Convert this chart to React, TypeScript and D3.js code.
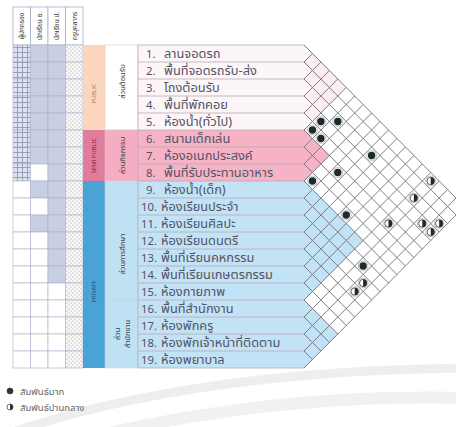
import React from "react";
import * as d3 from "d3";

const W = 456;
const H = 427;

const rowNames = [
  "ลานจอดรถ",
  "พื้นที่จอดรถรับ-ส่ง",
  "โถงต้อนรับ",
  "พื้นที่พักคอย",
  "ห้องน้ำ(ทั่วไป)",
  "สนามเด็กเล่น",
  "ห้องอเนกประสงค์",
  "พื้นที่รับประทานอาหาร",
  "ห้องน้ำ(เด็ก)",
  "ห้องเรียนประจำ",
  "ห้องเรียนศิลปะ",
  "ห้องเรียนดนตรี",
  "พื้นที่เรียนคหกรรม",
  "พื้นที่เรียนเกษตรกรรม",
  "ห้องกายภาพ",
  "พื้นที่สำนักงาน",
  "ห้องพักครู",
  "ห้องพักเจ้าหน้าที่ติดตาม",
  "ห้องพยาบาล",
];

const catNames = ["PUBLIC", "SEMI PUBLIC", "PRIVATE"];
const catStart = [1, 6, 9];
const catEnd = [5, 8, 19];

const subNames = ["ส่วนต้อนรับ", "ส่วนกิจกรรม", "ส่วนการศึกษา", "ส่วน|สำนักงาน"];
const subStart = [1, 6, 9, 16];
const subEnd = [5, 8, 15, 19];

const userNames = ["ผู้ปกครอง", "นักเรียน อ.", "นักเรียน ป.", "ครูบุคลากร"];
const userRowsCol1 = [1, 2, 3, 4, 5, 6, 7, 8];
const userRowsCol2 = [1, 2, 3, 4, 5, 6, 7, 9, 11];
const userRowsCol3 = [1, 2, 3, 4, 5, 6, 7, 8, 9, 10, 11, 12, 13, 14];
const userRowsCol4 = [1, 2, 3, 4, 5, 6, 7, 8, 9, 10, 11, 12, 13, 14, 15, 16, 17, 18, 19];

const strongPairs = [
  [4, 6], [3, 7], [5, 6], [5, 7], [3, 11], [6, 10], [8, 9], [8, 13], [10, 17],
];
const mediumPairs = [
  [1, 16], [3, 16], [6, 16], [4, 18], [3, 19], [4, 19], [11, 18], [12, 18],
];

const legendLabels = ["สัมพันธ์มาก", "สัมพันธ์ปานกลาง"];

const FONT = "'Noto Sans Thai', 'Noto Sans', 'DejaVu Sans', sans-serif";

const catFill = ["#fbd6bd", "#e27c9b", "#4aa3d5"];
const catText = ["#b07a55", "#7a1e3c", "#1f4e6e"];
const subFill = ["#ffffff", "#f4adc2", "#bfe1f4", "#bfe1f4"];
const rowFill = ["#fdf6f8", "#f6b3c6", "#c2e3f5"];
const triFill = ["#fbeef2", "#f6b3c6", "#c2e3f5", "#c2e3f5"];

export default function App() {
  const n = rowNames.length;
  const yRow = d3.scaleLinear().domain([1, n + 1]).range([45, 45 + 17 * n]);
  const xStep = d3.scaleLinear().domain([0, n]).range([304, 304 + 8.45 * n]);
  const xCol = d3.scaleLinear().domain([0, 4]).range([13, 83]);
  const X0 = xStep(0);
  const labelX0 = 138;
  const catX = [83, 105];
  const subX = [105, 138];
  const hh = (yRow(2) - yRow(1)) / 2;

  const rowCat = (k: number) => catStart.findIndex((s, i) => k >= s && k <= catEnd[i]);

  const cellPos = (i: number, j: number) => ({
    x: xStep(j - i),
    y: yRow((i + j) / 2 + 0.5),
  });

  const halfArc = (r: number) =>
    d3.arc()({ innerRadius: 0, outerRadius: r, startAngle: 0, endAngle: Math.PI } as any) as string;

  const userCols = [userRowsCol1, userRowsCol2, userRowsCol3, userRowsCol4];
  const rows = d3.range(1, n + 1);

  const gridLines: string[] = [];
  for (let k = 1; k <= n + 1; k++) {
    const y = yRow(k);
    const down = n + 1 - k;
    const up = k - 1;
    if (down > 0) gridLines.push(`M${X0},${y}L${xStep(down)},${y + down * hh}`);
    if (up > 0) gridLines.push(`M${X0},${y}L${xStep(up)},${y - up * hh}`);
  }

  return (
    <svg
      width={W}
      height={H}
      style={{ position: "absolute", left: 0, top: 0, background: "#fff" }}
      fontFamily={FONT}
    >
      <defs>
        <pattern id="hatch" width="5" height="5" patternUnits="userSpaceOnUse">
          <rect width="5" height="5" fill="#dfe3f0" />
          <path d="M0,2.5H5M2.5,0V5" stroke="#8d98bd" strokeWidth="0.9" />
        </pattern>
        <pattern id="dots" width="4" height="4" patternUnits="userSpaceOnUse">
          <rect width="4" height="4" fill="#fafafa" />
          <circle cx="1" cy="1" r="0.55" fill="#8a8a8a" />
          <circle cx="3" cy="3" r="0.55" fill="#8a8a8a" />
        </pattern>
      </defs>

      <path d="M-10,440 Q180,370 470,368" fill="none" stroke="#eeeeee" strokeWidth={9} />
      <path d="M60,445 Q260,392 470,398" fill="none" stroke="#f1f1f1" strokeWidth={12} />

      {userNames.map((u, c) => (
        <g key={u}>
          <rect x={xCol(c)} y={7} width={xCol(c + 1) - xCol(c)} height={yRow(1) - 7} fill="#fff" stroke="#9aa3c2" strokeWidth={0.7} />
          <text
            transform={`translate(${(xCol(c) + xCol(c + 1)) / 2 + 2.5},${(7 + yRow(1)) / 2}) rotate(-90)`}
            textAnchor="middle"
            fontSize={6.5}
            fill="#333"
          >
            {u}
          </text>
        </g>
      ))}

      {userCols.map((list, c) =>
        rows.map((k) => {
          const on = list.includes(k);
          const fill = !on ? "#fff" : c === 0 ? "url(#hatch)" : c === 3 ? "url(#dots)" : "#c9cfe2";
          return (
            <rect
              key={`${c}-${k}`}
              x={xCol(c)}
              y={yRow(k)}
              width={xCol(c + 1) - xCol(c)}
              height={yRow(k + 1) - yRow(k)}
              fill={fill}
              stroke="#a9b0ca"
              strokeWidth={0.6}
            />
          );
        })
      )}

      {catNames.map((c, i) => {
        const y1 = yRow(catStart[i]);
        const y2 = yRow(catEnd[i] + 1);
        const cy = i === 2 ? yRow(15.5) : (y1 + y2) / 2 + (i === 0 ? 6 : 0);
        return (
          <g key={c}>
            <rect x={catX[0]} y={y1} width={catX[1] - catX[0]} height={y2 - y1} fill={catFill[i]} />
            <text
              transform={`translate(${(catX[0] + catX[1]) / 2 + 2},${cy}) rotate(-90)`}
              textAnchor="middle"
              fontSize={5.8}
              fill={catText[i]}
            >
              {c}
            </text>
          </g>
        );
      })}

      {subNames.map((s, i) => {
        const y1 = yRow(subStart[i]);
        const y2 = yRow(subEnd[i] + 1);
        const lines = s.split("|");
        const cx = (subX[0] + subX[1]) / 2;
        const cy = i === 2 ? yRow(13.3) : (y1 + y2) / 2 - (i === 0 ? 6 : 0);
        return (
          <g key={s}>
            <rect x={subX[0]} y={y1} width={subX[1] - subX[0]} height={y2 - y1} fill={subFill[i]} stroke="#d9c9d0" strokeWidth={0.6} />
            {lines.map((l, li) => (
              <text
                key={l}
                transform={`translate(${cx + 3 + (li - (lines.length - 1) / 2) * 10},${cy}) rotate(-90)`}
                textAnchor="middle"
                fontSize={7.5}
                fill="#444"
              >
                {l}
              </text>
            ))}
          </g>
        );
      })}

      {subNames.map((s, i) => {
        const a = subStart[i];
        const b = subEnd[i];
        const m = b - a + 1;
        return (
          <path
            key={`tri-${s}`}
            d={`M${X0},${yRow(a)}L${xStep(m)},${(yRow(a) + yRow(b + 1)) / 2}L${X0},${yRow(b + 1)}Z`}
            fill={triFill[i]}
          />
        );
      })}

      {rows.map((k) => {
        const ci = rowCat(k);
        const mid = (yRow(k) + yRow(k + 1)) / 2;
        const nx = k < 10 ? 146 : 141;
        const tx = k < 10 ? 164 : 161;
        return (
          <g key={`row-${k}`}>
            <rect x={labelX0} y={yRow(k)} width={X0 - labelX0} height={yRow(k + 1) - yRow(k)} fill={rowFill[ci]} />
            <path d={`M${X0},${yRow(k)}L${xStep(1)},${mid}L${X0},${yRow(k + 1)}Z`} fill={rowFill[ci]} />
            <text x={nx} y={mid + 4.2} fontSize={11.3} fill="#535366">
              {`${k}.`}
            </text>
            <text transform={`translate(${tx},${mid + 4.3}) scale(1.05,1)`} fontSize={12.2} fill="#535366">
              {rowNames[k - 1]}
            </text>
          </g>
        );
      })}

      {d3.range(1, n + 2).map((k) => (
        <line key={`sep-${k}`} x1={labelX0} x2={X0} y1={yRow(k)} y2={yRow(k)} stroke="#b9aab3" strokeWidth={0.8} />
      ))}
      <line x1={labelX0} x2={labelX0} y1={yRow(1)} y2={yRow(n + 1)} stroke="#b9aab3" strokeWidth={0.8} />

      <path d={gridLines.join("")} fill="none" stroke="#7d7d86" strokeWidth={1} />

      {strongPairs.map(([i, j]) => {
        const p = cellPos(i, j);
        return (
          <g key={`s-${i}-${j}`} transform={`translate(${p.x},${p.y})`}>
            <circle r={4.9} fill="#fff" stroke="#9a9a9a" strokeWidth={0.6} />
            <circle r={3.7} fill="#1d2a2b" />
          </g>
        );
      })}

      {mediumPairs.map(([i, j]) => {
        const p = cellPos(i, j);
        return (
          <g key={`m-${i}-${j}`} transform={`translate(${p.x},${p.y})`}>
            <circle r={4.9} fill="#fff" stroke="#9a9a9a" strokeWidth={0.6} />
            <circle r={3.7} fill="#fff" stroke="#1d2a2b" strokeWidth={0.7} />
            <path d={halfArc(3.7)} fill="#1d2a2b" />
          </g>
        );
      })}

      {legendLabels.map((l, i) => {
        const cy = 391 + i * 16;
        return (
          <g key={l}>
            <circle cx={10} cy={cy} r={3} fill={i === 0 ? "#333" : "#fff"} stroke="#333" strokeWidth={0.7} />
            {i === 1 && <path d={halfArc(3)} transform={`translate(10,${cy})`} fill="#333" />}
            <text x={20} y={cy + 3.5} fontSize={9.5} fill="#666">
              {l}
            </text>
          </g>
        );
      })}
    </svg>
  );
}
